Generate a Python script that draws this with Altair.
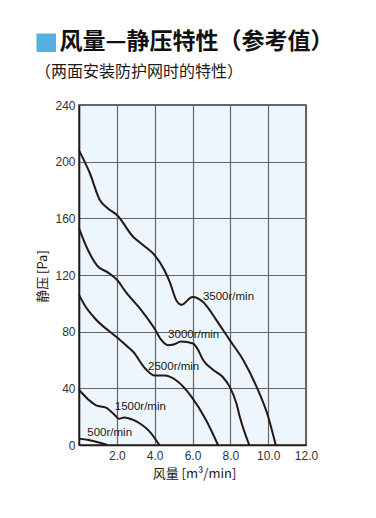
import altair as alt
import pandas as pd

# ---- data ----
x_3500 = [0, 0.57, 1.1, 1.53, 2.03, 2.86, 3.4, 4.0, 4.53, 4.8, 5.15, 5.42, 6.0, 6.56, 7.27, 7.97, 8.68, 9.39, 10.0, 10.4]
y_3500 = [208, 192, 173, 167, 162, 147, 141, 134, 123, 115, 102, 99, 104.5, 101, 88, 74, 60, 41, 20, 0]

x_3000 = [0, 0.48, 1.0, 1.5, 2.05, 2.42, 3.3, 4.0, 4.36, 4.7, 5.0, 5.4, 6.03, 6.3, 6.56, 7.1, 7.6, 7.97, 8.33, 8.5, 9.0]
y_3000 = [153, 137.5, 126, 122, 116, 109, 95, 82, 74, 70.5, 71, 73, 71.7, 67, 60, 53, 48, 41, 29, 20, 0]

x_2500 = [0, 0.3, 0.8, 2.0, 2.6, 2.85, 3.5, 4.0, 4.5, 5.2, 5.95, 6.7, 7.35]
y_2500 = [106, 98.7, 90, 76, 69, 66, 54, 49, 49, 45, 34, 18, 0]

x_1500 = [0, 0.5, 0.9, 1.4, 1.9, 2.1, 2.4, 2.9, 3.3, 3.7, 4.25]
y_1500 = [39, 32, 28, 26.5, 21, 18.5, 19.5, 17.5, 14.5, 10, 0]

x_500 = [0, 0.5, 1.0, 1.5]
y_500 = [4.5, 3.5, 2, 0]

series_names = ["3500r/min", "3000r/min", "2500r/min", "1500r/min", "500r/min"]
label_x = [6.55, 4.71, 3.65, 1.89, 0.44]
label_y = [104.3, 78.0, 55.2, 26.9, 8.6]

x_ticks = [0, 2, 4, 6, 8, 10, 12]
y_ticks = [0, 40, 80, 120, 160, 200, 240]

title_text = "风量—静压特性（参考值）"
subtitle_text = "（两面安装防护网时的特性）"
x_title = "风量 [m³/min]"
y_title = "静压 [Pa]"

# ---- build tables ----
rows = []
for name, xs, ys in zip(series_names,
                        [x_3500, x_3000, x_2500, x_1500, x_500],
                        [y_3500, y_3000, y_2500, y_1500, y_500]):
    for i, (a, b) in enumerate(zip(xs, ys)):
        rows.append({"series": name, "order": i, "q": a, "p": b})
curves = pd.DataFrame(rows)
labels = pd.DataFrame({"series": series_names, "q": label_x, "p": label_y})
one = pd.DataFrame({"t": [title_text], "s": [subtitle_text]})

INK = "#231815"
CJK = "Noto Sans CJK SC"
LAT = "Liberation Sans"

xscale = alt.Scale(domain=[0, 12], nice=False, zero=False)
yscale = alt.Scale(domain=[0, 240], nice=False)

xaxis = alt.Axis(values=x_ticks, labelExpr="datum.value == 0 ? '' : format(datum.value, '.1f')",
                 title=x_title, titleX=115, titleY=28, titleAlign="center",
                 titleBaseline="middle", titleFont=CJK, titleFontSize=13,
                 titleFontWeight="normal", titleColor=INK,
                 labelFont=LAT, labelFontSize=12, labelColor="#333333",
                 labelPadding=5, labelOverlap=False, labelFlush=False,
                 ticks=False, grid=True,
                 gridColor="#666666", gridWidth=1.2,
                 domainColor=INK, domainWidth=1.5)
yaxis = alt.Axis(values=y_ticks, title=y_title, titleX=-36.5, titleY=171,
                 titleAngle=-90, titleAlign="center", titleBaseline="middle",
                 titleFont=CJK, titleFontSize=13, titleFontWeight="normal",
                 titleColor=INK, labelFont=LAT, labelFontSize=12,
                 labelColor="#333333", labelPadding=4, labelOverlap=False,
                 labelFlush=False, ticks=False, grid=True,
                 gridColor="#666666", gridWidth=1.2,
                 domainColor=INK, domainWidth=1.5)

lines = alt.Chart(curves).mark_line(color=INK, strokeWidth=2, interpolate="monotone").encode(
    x=alt.X("q:Q", scale=xscale, axis=xaxis),
    y=alt.Y("p:Q", scale=yscale, axis=yaxis),
    detail="series:N",
    order="order:Q",
)

texts = alt.Chart(labels).mark_text(font=LAT, fontSize=11.5, color=INK,
                                    align="left", baseline="middle").encode(
    x=alt.X("q:Q", scale=xscale, axis=xaxis),
    y=alt.Y("p:Q", scale=yscale, axis=yaxis),
    text="series:N",
)

square = alt.Chart(one).mark_rect(color="#55B0E0").encode(
    x=alt.value(-42.5), x2=alt.value(-23), y=alt.value(-71.5), y2=alt.value(-53)
)
title = alt.Chart(one).mark_text(font=CJK, fontSize=23, fontWeight="bold", color="#111111",
                                 align="left", baseline="middle").encode(
    x=alt.value(-19.5), y=alt.value(-63), text="t:N"
)
subtitle = alt.Chart(one).mark_text(font=CJK, fontSize=16, color=INK,
                                    align="left", baseline="middle").encode(
    x=alt.value(-44), y=alt.value(-33), text="s:N"
)

chart = alt.layer(lines, texts, square, title, subtitle).properties(
    width=227, height=340,
    autosize=alt.AutoSizeParams(type="none"),
    padding={"left": 71, "top": 97, "right": 62, "bottom": 65},
    background="white",
).configure_view(fill="#EDF6FC", stroke="#333333", strokeWidth=1.5)

chart.save("out.html", embed_options={"renderer": "svg", "actions": False})
